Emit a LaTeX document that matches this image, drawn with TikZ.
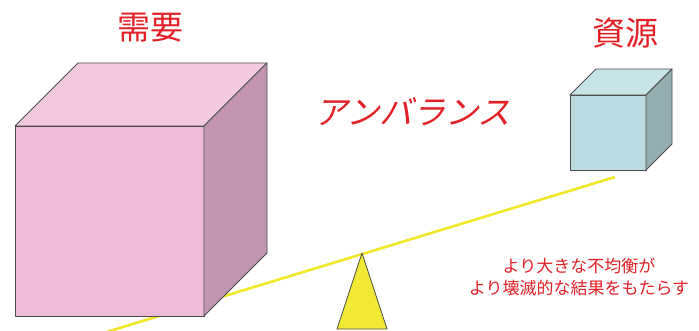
\documentclass[tikz,border=0pt]{standalone}
\usepackage{fontspec}
\setmainfont{Noto Sans CJK JP}
\usetikzlibrary{positioning}
\definecolor{titlered}{RGB}{226,32,38}
\definecolor{pinkfront}{RGB}{237,187,215}
\definecolor{pinktop}{RGB}{242,201,223}
\definecolor{pinkside}{RGB}{194,150,178}
\definecolor{bluefront}{RGB}{186,220,224}
\definecolor{bluetop}{RGB}{199,228,231}
\definecolor{blueside}{RGB}{150,174,177}
\definecolor{beamyellow}{RGB}{240,232,40}
\tikzstyle{heading}=[text=titlered, font=\fontsize{33}{36}\selectfont, inner sep=0pt]
\tikzstyle{remark}=[text=titlered, font=\fontsize{17}{21.5}\selectfont, align=center, inner sep=0pt]
\tikzstyle{face}=[draw=black!70, line width=0.8pt, line join=round]
\tikzstyle{beam}=[draw=beamyellow, line width=2.6pt]

\begin{document}
\begin{tikzpicture}[x=1pt,y=-1pt]
  \useasboundingbox (0,0) rectangle (699,331);
  % seesaw beam, behind the blocks
  \coordinate (beamL) at (100,334);
  \coordinate (beamR) at (615,177);
  \draw[beam] (beamL) -- (beamR);

  % demand block
  \coordinate (dA) at (15,126);
  \coordinate (dB) at (204,126);
  \coordinate (dC) at (204,316);
  \coordinate (dD) at (15,316);
  \coordinate (dE) at (78,63);
  \coordinate (dF) at (267,63);
  \coordinate (dG) at (267,253);
  \filldraw[face, fill=pinkfront] (dA) -- (dB) -- (dC) -- (dD) -- cycle;
  \filldraw[face, fill=pinktop] (dA) -- (dE) -- (dF) -- (dB) -- cycle;
  \filldraw[face, fill=pinkside] (dB) -- (dF) -- (dG) -- (dC) -- cycle;

  % resource block
  \coordinate (rA) at (570,95);
  \coordinate (rB) at (646,95);
  \coordinate (rC) at (646,170);
  \coordinate (rD) at (570,170);
  \coordinate (rE) at (596,69);
  \coordinate (rF) at (672,69);
  \coordinate (rG) at (672,144);
  \filldraw[face, fill=bluefront] (rA) -- (rB) -- (rC) -- (rD) -- cycle;
  \filldraw[face, fill=bluetop] (rA) -- (rE) -- (rF) -- (rB) -- cycle;
  \filldraw[face, fill=blueside] (rB) -- (rF) -- (rG) -- (rC) -- cycle;

  % fulcrum
  \coordinate (apex) at (362,253);
  \filldraw[face, fill=beamyellow!95!white] (apex) -- (387,329) -- (337,329) -- cycle;

  \node[heading] (demand) at (150,28) {需要};
  \node[heading] (resource) at (625,33) {資源};
  % slanted title
  \begin{scope}[shift={(416,112)}, xslant=0.25]
    \node[heading, transform shape] (imbalance) at (0,0) {アンバランス};
  \end{scope}
  \node[remark] (effect) at (579,277) {より大きな不均衡が\\より壊滅的な結果をもたらす};
\end{tikzpicture}
\end{document}
